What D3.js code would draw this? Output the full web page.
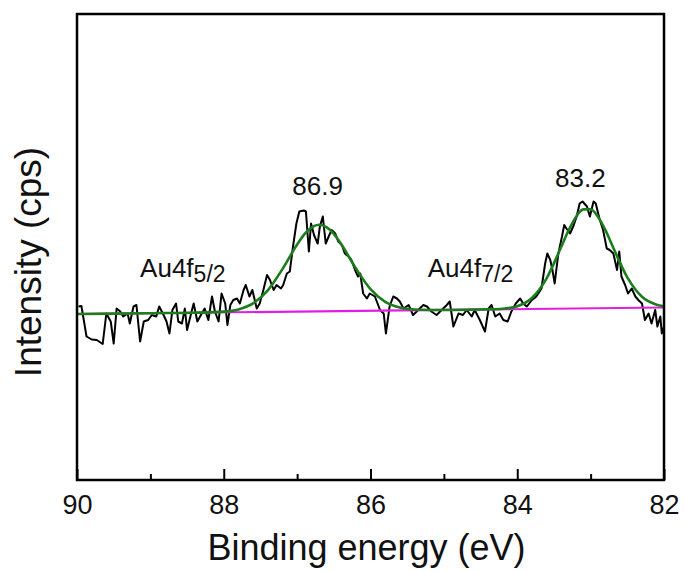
<!DOCTYPE html>
<html>
<head>
<meta charset="utf-8">
<script src="https://cdn.jsdelivr.net/npm/d3@7"></script>
<style>
  html, body { margin: 0; padding: 0; background: #fff; }
  svg { display: block; }
  text { font-family: Arial, "Liberation Sans", sans-serif; fill: #111; }
</style>
</head>
<body>
<div id="chart"></div>
<script>
// ---- Data ----
const energyRaw = [
  89.98, 89.94, 89.87, 89.80, 89.73, 89.65, 89.60, 89.54, 89.50, 89.46,
  89.41, 89.37, 89.31, 89.28, 89.23, 89.19, 89.14, 89.09, 89.03, 88.98,
  88.92, 88.88, 88.83, 88.78, 88.74, 88.70, 88.65, 88.62, 88.57, 88.53,
  88.50, 88.45, 88.41, 88.36, 88.30, 88.26, 88.21, 88.16, 88.12, 88.07,
  88.03, 87.98, 87.95, 87.91, 87.87, 87.82, 87.78, 87.73, 87.70, 87.65,
  87.61, 87.55, 87.51, 87.46, 87.41, 87.37, 87.32, 87.28, 87.22, 87.19,
  87.14, 87.10, 87.06, 87.01, 86.97, 86.91, 86.88, 86.84, 86.81, 86.77,
  86.72, 86.69, 86.65, 86.61, 86.57, 86.53, 86.48, 86.44, 86.39, 86.35,
  86.30, 86.26, 86.21, 86.17,
  86.14, 86.10, 86.05, 86.01, 85.94, 85.87, 85.82, 85.79, 85.74, 85.69,
  85.64, 85.60, 85.55, 85.48, 85.42, 85.35, 85.28, 85.23, 85.17, 85.10,
  85.03, 84.96, 84.92, 84.87, 84.80, 84.74, 84.69, 84.62, 84.58, 84.51,
  84.44, 84.39, 84.35, 84.30, 84.24, 84.19, 84.13, 84.08, 84.02, 83.96,
  83.92, 83.87, 83.80, 83.74, 83.67, 83.62, 83.59, 83.55, 83.52, 83.49,
  83.44, 83.39, 83.36, 83.33, 83.28, 83.23, 83.19, 83.15, 83.11, 83.05,
  83.01, 82.96, 82.93, 82.88, 82.83, 82.78, 82.74, 82.69, 82.64, 82.61,
  82.58, 82.53, 82.49, 82.44, 82.39, 82.35, 82.30, 82.26, 82.21, 82.17,
  82.12, 82.09, 82.05, 82.03, 82.00
];
const intensityRaw = [
  347, 348, 287, 281, 280, 272, 333, 317, 273, 343,
  337, 327, 333, 313, 347, 350, 277, 317, 320, 330,
  327, 347, 333, 317, 293, 340, 353, 317, 313, 343,
  300, 330, 353, 317, 333, 343, 320, 367, 337, 317,
  373, 353, 310, 350, 360, 363, 353, 380, 390, 367,
  380, 343, 353, 380, 410, 400, 380, 390, 383, 390,
  413, 417, 463, 513, 537, 539, 537, 457, 513, 490,
  473, 507, 527, 473, 487, 500, 493, 477, 470, 453,
  447, 440, 420, 407,
  413, 373, 363, 373, 367, 340, 333, 293, 347, 367,
  363, 357, 343, 350, 330, 340, 350, 347, 337, 330,
  340, 350, 357, 307, 333, 330, 340, 327, 340, 320,
  297, 343, 350, 327, 333, 320, 317, 337, 353, 363,
  353, 347, 360, 367, 383, 433, 453, 440, 420, 393,
  453, 487, 510, 503, 493, 510, 527, 553, 557, 547,
  527, 557, 553, 523, 500, 463, 460, 453, 420, 457,
  407, 390, 373, 383, 367, 360, 353, 320, 333, 313,
  340, 307, 327, 293, 307
];

// Fitted envelope (green)
const fitEnergy = [
  90.0, 89.0, 88.4, 88.0, 87.8, 87.6, 87.4, 87.2, 87.0, 86.9,
  86.8, 86.7, 86.6, 86.5, 86.4, 86.2, 86.0, 85.8, 85.6, 85.4,
  85.2, 85.0, 84.6, 84.4, 84.2, 84.0, 83.8, 83.6, 83.4, 83.3,
  83.2, 83.1, 83.0, 82.9, 82.8, 82.7, 82.5, 82.3, 82.1, 82.0
];
const fitIntensity = [
  332.0, 333.6, 334.6, 336.7, 341.2, 353.3, 379.3, 421.8, 470.9, 491.6,
  505.4, 510.4, 505.7, 492.2, 471.9, 423.4, 381.6, 356.2, 344.8, 340.9,
  340.1, 340.1, 340.8, 341.3, 342.5, 347.6, 364.1, 403.4, 466.4, 499.4,
  526.2, 541.2, 541.4, 526.6, 500.2, 467.6, 405.2, 366.5, 350.6, 347.6
];

// Background (magenta)
const bgEnergy = [90, 82];
const bgIntensity = [332, 345];

// Axis ticks
const majorTicks = [90, 88, 86, 84, 82];
const minorTicks = [89, 87, 85, 83];

// Annotations
const peakLabels = ["86.9", "83.2"];
const peakLabelE = [86.72, 83.14];
const peakLabelI = [570, 586];
const stateLabels = ["Au4f", "Au4f"];
const stateSubs = ["5/2", "7/2"];
const stateLabelE = [89.14, 85.22];
const stateLabelI = [406, 406];

// ---- Layout ----
const W = 684, H = 572;
const margin = { left: 77, right: 20, top: 14, bottom: 92 };
const pw = W - margin.left - margin.right;
const ph = H - margin.top - margin.bottom;

const svg = d3.select("#chart").append("svg")
  .attr("width", W).attr("height", H);

const x = d3.scaleLinear().domain([90, 82]).range([0, pw]);
const y = d3.scaleLinear().domain([0, 932]).range([ph, 0]);

const g = svg.append("g").attr("transform", `translate(${margin.left},${margin.top})`);

g.append("clipPath").attr("id", "clip")
  .append("rect").attr("width", pw).attr("height", ph);

const plot = g.append("g").attr("clip-path", "url(#clip)");

const raw = energyRaw.map((e, i) => [e, intensityRaw[i]]);
const fit = fitEnergy.map((e, i) => [e, fitIntensity[i]]);
const bg = bgEnergy.map((e, i) => [e, bgIntensity[i]]);

const line = d3.line().x(d => x(d[0])).y(d => y(d[1]));
const smooth = d3.line().x(d => x(d[0])).y(d => y(d[1])).curve(d3.curveMonotoneX);

plot.append("path").datum(raw)
  .attr("fill", "none").attr("stroke", "#000").attr("stroke-width", 2)
  .attr("stroke-linejoin", "round").attr("d", line);

plot.append("path").datum(bg)
  .attr("fill", "none").attr("stroke", "#e020e0").attr("stroke-width", 2.2)
  .attr("d", line);

plot.append("path").datum(fit)
  .attr("fill", "none").attr("stroke", "#1c7d1c").attr("stroke-width", 2.6)
  .attr("d", smooth);

// Axes
const axMajor = g.append("g").attr("transform", `translate(0,${ph})`)
  .call(d3.axisBottom(x).tickValues(majorTicks).tickSizeInner(-11).tickSizeOuter(0)
    .tickPadding(15).tickFormat(d3.format("d")));
axMajor.select(".domain").remove();
axMajor.selectAll(".tick line").attr("stroke", "#000").attr("stroke-width", 2);
axMajor.selectAll(".tick text")
  .style("font-family", "Arial, 'Liberation Sans', sans-serif")
  .style("font-size", "27px").attr("fill", "#111");

const axMinor = g.append("g").attr("transform", `translate(0,${ph})`)
  .call(d3.axisBottom(x).tickValues(minorTicks).tickSizeInner(-6).tickSizeOuter(0)
    .tickFormat(""));
axMinor.select(".domain").remove();
axMinor.selectAll(".tick line").attr("stroke", "#000").attr("stroke-width", 2);

// Frame
g.append("rect").attr("width", pw).attr("height", ph)
  .attr("fill", "none").attr("stroke", "#000").attr("stroke-width", 2.5);

// Peak labels
g.selectAll(".peak").data(peakLabels).enter().append("text")
  .attr("class", "peak")
  .attr("x", (d, i) => x(peakLabelE[i]))
  .attr("y", (d, i) => y(peakLabelI[i]))
  .attr("text-anchor", "middle")
  .style("font-size", "26px")
  .text(d => d);

// State labels with lowered smaller suffix
stateLabels.forEach((t, i) => {
  const tx = g.append("text")
    .attr("x", x(stateLabelE[i]))
    .attr("y", y(stateLabelI[i]))
    .style("font-size", "26px");
  tx.append("tspan").text(t);
  tx.append("tspan").attr("dy", 5).style("font-size", "23px").text(stateSubs[i]);
});

// Axis titles
svg.append("text")
  .attr("x", margin.left + pw / 2 - 4)
  .attr("y", 560)
  .attr("text-anchor", "middle")
  .style("font-size", "36px")
  .text("Binding energy (eV)");

svg.append("text")
  .attr("transform", `translate(41,${margin.top + 248}) rotate(-90)`)
  .attr("text-anchor", "middle")
  .style("font-size", "37px")
  .text("Intensity (cps)");
</script>
</body>
</html>
